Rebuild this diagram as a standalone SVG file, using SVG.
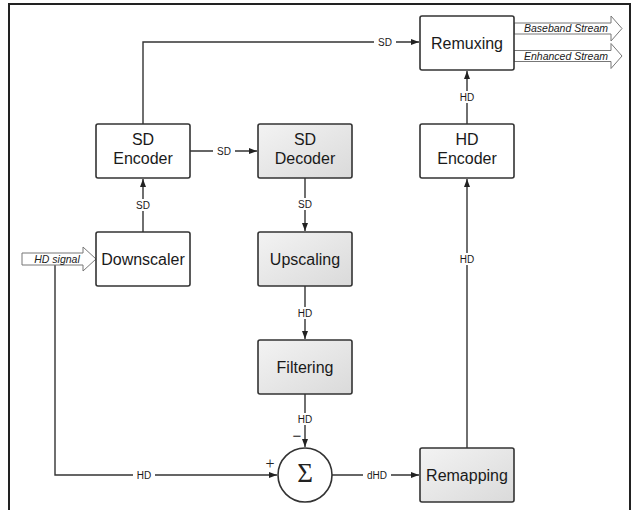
<svg xmlns="http://www.w3.org/2000/svg" width="632" height="510" viewBox="0 0 632 510">
<defs>
<linearGradient id="gray" x1="0" y1="0" x2="1" y2="1">
<stop offset="0" stop-color="#f3f3f3"/>
<stop offset="1" stop-color="#dadada"/>
</linearGradient>
<marker id="ah" viewBox="0 0 8 6" refX="8" refY="3" markerWidth="8" markerHeight="6" markerUnits="userSpaceOnUse" orient="auto">
<path d="M0,0 L8,3 L0,6 Z" fill="#222"/>
</marker>
<style>
.box{fill:#fff;stroke:#333;stroke-width:1.6}
.gbox{fill:url(#gray);stroke:#333;stroke-width:1.6}
.t{font-family:"Liberation Sans",Arial,sans-serif;font-size:16px;fill:#1a1a1a;text-anchor:middle}
.lbl{font-family:"Liberation Sans",Arial,sans-serif;font-size:10px;fill:#1a1a1a;text-anchor:middle}
.it{font-family:"Liberation Sans",Arial,sans-serif;font-size:10.5px;font-style:italic;fill:#1a1a1a;text-anchor:middle}
.ln{fill:none;stroke:#333;stroke-width:1.4}
.lb{fill:#fff}
.blk{fill:#fff;stroke:#777;stroke-width:1}
</style>
</defs>
<rect x="9" y="4" width="621" height="510" fill="none" stroke="#222" stroke-width="2"/>

<g id="connectors">
<path class="ln" d="M143,124 V42 H419" marker-end="url(#ah)"/>
<rect class="lb" x="374" y="36" width="22" height="12"/>
<text class="lbl" x="385" y="45.5">SD</text>

<path class="ln" d="M190,151 H257" marker-end="url(#ah)"/>
<rect class="lb" x="213" y="145" width="22" height="12"/>
<text class="lbl" x="224" y="154.5">SD</text>

<path class="ln" d="M143,232 V179" marker-end="url(#ah)"/>
<rect class="lb" x="134" y="199" width="18" height="12"/>
<text class="lbl" x="143" y="208.5">SD</text>

<path class="ln" d="M305,178 V231" marker-end="url(#ah)"/>
<rect class="lb" x="296" y="198" width="18" height="12"/>
<text class="lbl" x="305" y="207.5">SD</text>

<path class="ln" d="M305,286 V339" marker-end="url(#ah)"/>
<rect class="lb" x="296" y="307" width="18" height="12"/>
<text class="lbl" x="305" y="316.5">HD</text>

<path class="ln" d="M305,394 V447" marker-end="url(#ah)"/>
<rect class="lb" x="296" y="413" width="18" height="12"/>
<text class="lbl" x="305" y="422.5">HD</text>

<path class="ln" d="M55,265 V475 H277" marker-end="url(#ah)"/>
<rect class="lb" x="133" y="469" width="22" height="12"/>
<text class="lbl" x="144" y="478.5">HD</text>

<path class="ln" d="M332,475 H419" marker-end="url(#ah)"/>
<rect class="lb" x="363" y="469" width="28" height="12"/>
<text class="lbl" x="377" y="478.5">dHD</text>

<path class="ln" d="M467,448 V179" marker-end="url(#ah)"/>
<rect class="lb" x="458" y="253" width="18" height="12"/>
<text class="lbl" x="467" y="262.5">HD</text>

<path class="ln" d="M467,124 V71" marker-end="url(#ah)"/>
<rect class="lb" x="458" y="91" width="18" height="12"/>
<text class="lbl" x="467" y="100.5">HD</text>

<text x="297" y="441" font-family="'Liberation Sans',Arial,sans-serif" font-size="15" fill="#222" text-anchor="middle">−</text>
<text x="270" y="469" font-family="'Liberation Serif',serif" font-size="16" fill="#222" text-anchor="middle">+</text>
</g>

<g id="hd-signal">
<path class="blk" d="M22,253 H83 V247 L96,259 L83,271 V265 H22 Z"/>
<text class="it" x="57" y="263">HD signal</text>
</g>

<g id="baseband-stream">
<path class="blk" d="M514,23 H611 V16 L622,28.5 L611,41 V34 H514 Z"/>
<text class="it" x="566" y="32">Baseband Stream</text>
</g>
<g id="enhanced-stream">
<path class="blk" d="M514,50.5 H611 V43.5 L622,56 L611,68.5 V61.5 H514 Z"/>
<text class="it" x="566" y="60">Enhanced Stream</text>
</g>

<g id="remuxing">
<rect class="box" x="420" y="16" width="94" height="54" rx="2"/>
<text class="t" x="467" y="49">Remuxing</text>
</g>
<g id="sd-encoder">
<rect class="box" x="96" y="124" width="94" height="54" rx="2"/>
<text class="t" x="143" y="145">SD</text>
<text class="t" x="143" y="164">Encoder</text>
</g>
<g id="sd-decoder">
<rect class="gbox" x="258" y="124" width="94" height="54" rx="2"/>
<text class="t" x="305" y="145">SD</text>
<text class="t" x="305" y="164">Decoder</text>
</g>
<g id="hd-encoder">
<rect class="box" x="420" y="124" width="94" height="54" rx="2"/>
<text class="t" x="467" y="145">HD</text>
<text class="t" x="467" y="164">Encoder</text>
</g>
<g id="downscaler">
<rect class="box" x="96" y="232" width="94" height="54" rx="2"/>
<text class="t" x="143" y="265">Downscaler</text>
</g>
<g id="upscaling">
<rect class="gbox" x="258" y="232" width="94" height="54" rx="2"/>
<text class="t" x="305" y="265">Upscaling</text>
</g>
<g id="filtering">
<rect class="gbox" x="258" y="340" width="94" height="54" rx="2"/>
<text class="t" x="305" y="373">Filtering</text>
</g>
<g id="sum">
<circle cx="305" cy="475" r="27" fill="#fff" stroke="#333" stroke-width="1.6"/>
<text x="305" y="481.5" font-family="'Liberation Serif','Times New Roman',serif" font-size="27" fill="#222" text-anchor="middle">Σ</text>
</g>
<g id="remapping">
<rect class="gbox" x="420" y="448" width="94" height="54" rx="2"/>
<text class="t" x="467" y="481">Remapping</text>
</g>
</svg>
